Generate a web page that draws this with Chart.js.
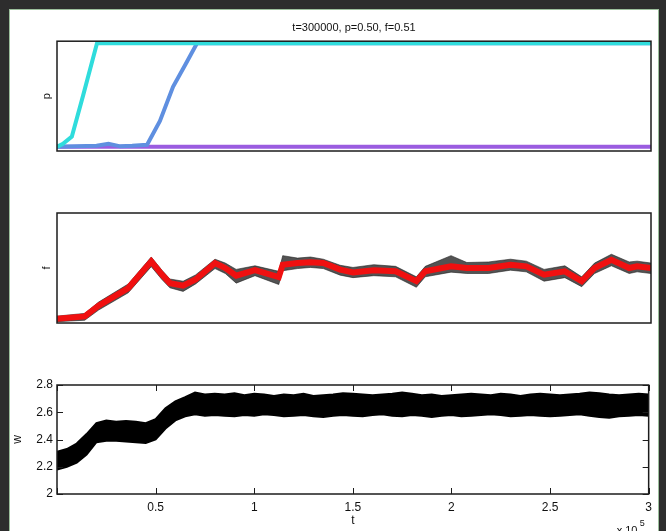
<!DOCTYPE html>
<html>
<head>
<meta charset="utf-8">
<script src="https://cdn.jsdelivr.net/npm/chart.js@4.4.0/dist/chart.umd.min.js"></script>
<style>
  html, body { margin: 0; padding: 0; background: #2d2d2d; width: 666px; height: 531px; overflow: hidden; }
  #fig { position: absolute; left: 9px; top: 9px; width: 648px; height: 540px; background: #fff; border: 1px solid #9cbf9c; }
  canvas { position: absolute; left: 10px; }
</style>
</head>
<body>
<div id="fig"></div>
<canvas id="chart-p" width="648" height="150" style="top:10px"></canvas>
<canvas id="chart-f" width="648" height="135" style="top:200px"></canvas>
<canvas id="chart-w" width="648" height="161" style="top:370px"></canvas>
<script>
/**
 * t=300000 run — p, f and w against time
 */
const FONT = 'Liberation Sans, Arial, Helvetica, sans-serif';
const chartTitle = 't=300000, p=0.50, f=0.51';

// p — strategy fractions
const pTimeCyan = [0, 3000, 7500, 13100, 20200, 300000];
const pCyan = [0, 0.03, 0.10, 0.49, 1, 1];
const pTimeBlue = [0, 10000, 20000, 26000, 32000, 38000, 45500, 52000, 58600, 65000, 70700, 300000];
const pBlue = [0, 0.005, 0.01, 0.03, 0.005, 0.01, 0.02, 0.25, 0.58, 0.80, 1, 1];
const pTimePurple = [0, 300000];
const pPurple = [0, 0];

// f — smoothed (red) and spread of the raw samples (black)
const fTime = [0, 14000, 21000, 36000, 47600, 53000, 57000, 63700, 70000, 79800, 85000, 90500, 100000,
    112000, 114000, 121500, 128000, 134500, 143000, 149500, 160000, 171000, 181500, 186000, 199000,
    207000, 218000, 229000, 237000, 246000, 256500, 265000, 271500, 280000, 289000, 293000, 300000];
const fRed = [0.315, 0.324, 0.363, 0.427, 0.524, 0.476, 0.445, 0.436, 0.458, 0.518, 0.500, 0.472, 0.492,
    0.467, 0.512, 0.518, 0.521, 0.518, 0.494, 0.484, 0.492, 0.488, 0.452, 0.488, 0.506,
    0.500, 0.500, 0.512, 0.506, 0.476, 0.488, 0.452, 0.500, 0.530, 0.500, 0.506, 0.500];
const fUpper = [0.325, 0.335, 0.376, 0.442, 0.540, 0.492, 0.460, 0.452, 0.475, 0.532, 0.518, 0.495, 0.508,
    0.488, 0.545, 0.536, 0.540, 0.532, 0.510, 0.502, 0.512, 0.506, 0.468, 0.506, 0.545,
    0.520, 0.522, 0.532, 0.525, 0.495, 0.508, 0.468, 0.518, 0.550, 0.522, 0.525, 0.518];
const fLower = [0.305, 0.310, 0.347, 0.410, 0.505, 0.458, 0.428, 0.415, 0.442, 0.498, 0.480, 0.445, 0.472,
    0.440, 0.490, 0.498, 0.502, 0.498, 0.474, 0.465, 0.472, 0.468, 0.430, 0.468, 0.485,
    0.480, 0.480, 0.492, 0.486, 0.452, 0.465, 0.432, 0.480, 0.508, 0.480, 0.486, 0.480];

// w — band of the noisy trace (upper / lower edge)
const wTime = [0, 5000, 10000, 15000, 20000, 25000, 30000, 35000, 40000, 45000, 50000, 55000, 60000, 65000, 70000,
    75000, 80000, 85000, 90000, 95000, 100000, 105000, 110000, 115000, 120000, 125000, 130000, 135000, 140000,
    145000, 150000, 155000, 160000, 165000, 170000, 175000, 180000, 185000, 190000, 195000, 200000, 205000,
    210000, 215000, 220000, 225000, 230000, 235000, 240000, 245000, 250000, 255000, 260000, 265000, 270000,
    275000, 280000, 285000, 290000, 295000, 300000];
const wUpper = [2.31, 2.33, 2.37, 2.44, 2.52, 2.54, 2.53, 2.535, 2.53, 2.52, 2.55, 2.63, 2.68, 2.71, 2.745,
    2.73, 2.735, 2.73, 2.74, 2.725, 2.735, 2.73, 2.72, 2.73, 2.725, 2.735, 2.72, 2.725, 2.73,
    2.74, 2.735, 2.73, 2.725, 2.73, 2.735, 2.745, 2.735, 2.725, 2.73, 2.72, 2.725, 2.73,
    2.735, 2.73, 2.725, 2.735, 2.73, 2.72, 2.73, 2.735, 2.73, 2.725, 2.73, 2.735, 2.745,
    2.74, 2.73, 2.725, 2.73, 2.735, 2.73];
const wLower = [2.18, 2.20, 2.23, 2.29, 2.38, 2.39, 2.39, 2.385, 2.38, 2.375, 2.40, 2.48, 2.54, 2.57, 2.585,
    2.575, 2.58, 2.575, 2.57, 2.58, 2.575, 2.585, 2.58, 2.57, 2.575, 2.58, 2.57, 2.565, 2.575,
    2.58, 2.575, 2.57, 2.58, 2.585, 2.575, 2.57, 2.58, 2.575, 2.565, 2.575, 2.58, 2.57,
    2.575, 2.58, 2.585, 2.58, 2.57, 2.575, 2.58, 2.575, 2.57, 2.575, 2.58, 2.585, 2.575,
    2.565, 2.56, 2.57, 2.575, 2.58, 2.575];

// x axis
const tMax = 300000;
const tStep = 50000;
const tScale = 1e5;
const wTicks = { min: 2, max: 2.8, step: 0.2 };

const pts = (xs, ys) => xs.map((x, i) => ({ x, y: ys[i] }));

// box round the plot area, with inward ticks where asked
const framePlugin = {
    id: 'frame',
    afterDatasetsDraw(chart, args, opts) {
        const { ctx, chartArea: a } = chart;
        ctx.save();
        ctx.strokeStyle = '#1c1c1c';
        ctx.lineWidth = 1.5;
        ctx.strokeRect(a.left, a.top, a.right - a.left, a.bottom - a.top);
        if (opts.ticks) {
            const xs = chart.scales.x, ys = chart.scales.y;
            ctx.lineWidth = 1;
            ctx.beginPath();
            xs.ticks.forEach(t => {
                const px = Math.round(xs.getPixelForValue(t.value)) + 0.5;
                ctx.moveTo(px, a.bottom); ctx.lineTo(px, a.bottom - 6);
                ctx.moveTo(px, a.top); ctx.lineTo(px, a.top + 6);
            });
            ys.ticks.forEach(t => {
                const py = Math.round(ys.getPixelForValue(t.value)) + 0.5;
                ctx.moveTo(a.left, py); ctx.lineTo(a.left + 6, py);
                ctx.moveTo(a.right, py); ctx.lineTo(a.right - 6, py);
            });
            ctx.stroke();
        }
        if (opts.exponent) {
            ctx.fillStyle = '#111';
            ctx.font = '11px ' + FONT;
            ctx.textBaseline = 'alphabetic';
            ctx.fillText('x 10', a.right - 32, chart.height + 3);
            ctx.font = '9px ' + FONT;
            ctx.fillText('5', a.right - 9, chart.height - 5);
        }
        ctx.restore();
    }
};

function baseOptions(yMin, yMax, yTitle, padding) {
    return {
        responsive: false, animation: false, devicePixelRatio: 1, events: [],
        layout: { padding },
        elements: { point: { radius: 0 }, line: { tension: 0 } },
        plugins: { legend: { display: false }, tooltip: { enabled: false }, frame: {} },
        scales: {
            x: { type: 'linear', min: 0, max: tMax, display: false },
            y: {
                min: yMin, max: yMax,
                afterFit: s => { s.width = 47; },
                grid: { display: false, drawTicks: false }, border: { display: false },
                ticks: { display: false },
                title: { display: true, text: yTitle, color: '#111', font: { family: FONT, size: 11 }, padding: { top: 30, bottom: 0 } }
            }
        }
    };
}

// p
const optP = baseOptions(-0.04, 1.02, 'p', { top: 10, right: 7, bottom: 9, left: 0 });
optP.plugins.title = {
    display: true, text: chartTitle, fullSize: false, color: '#111',
    font: { family: FONT, size: 11, weight: 'normal' }, padding: { top: 1, bottom: 7 }
};
new Chart(document.getElementById('chart-p'), {
    type: 'line',
    data: {
        datasets: [
            { data: pts(pTimeCyan, pCyan), borderColor: '#2fdcdc', borderWidth: 4, clip: 0 },
            { data: pts(pTimeBlue, pBlue), borderColor: '#5f8fe0', borderWidth: 4, clip: 0 },
            { data: pts(pTimePurple, pPurple), borderColor: '#9a5ce0', borderWidth: 4, clip: 0 }
        ]
    },
    options: optP,
    plugins: [framePlugin]
});

// f
new Chart(document.getElementById('chart-f'), {
    type: 'line',
    data: {
        datasets: [
            { data: pts(fTime, fRed), borderColor: '#f01010', borderWidth: 6, clip: 0 },
            { data: pts(fTime, fUpper), borderColor: 'rgba(20,20,20,0.55)', borderWidth: 1, fill: '+1', backgroundColor: 'rgba(25,25,25,0.75)', clip: 0 },
            { data: pts(fTime, fLower), borderColor: 'rgba(20,20,20,0.55)', borderWidth: 1, fill: false, clip: 0 }
        ]
    },
    options: baseOptions(0.3, 0.7, 'f', { top: 13, right: 7, bottom: 12, left: 0 }),
    plugins: [framePlugin]
});

// w
const optW = baseOptions(wTicks.min, wTicks.max, 'w', { top: 15, right: 7, bottom: 0, left: 0 });
optW.plugins.frame = { ticks: true, exponent: true };
optW.scales.x = {
    type: 'linear', min: 0, max: tMax,
    afterFit: s => { s.height = 37; },
    grid: { display: false, drawTicks: false }, border: { display: false },
    ticks: {
        stepSize: tStep, padding: 6, color: '#111', maxRotation: 0, autoSkip: false,
        font: { family: FONT, size: 12 },
        callback: v => v === 0 ? '' : String(v / tScale)
    },
    title: { display: true, text: 't', color: '#111', font: { family: FONT, size: 12 }, padding: { top: 0, bottom: 3 } }
};
optW.scales.y.ticks = {
    display: true, stepSize: wTicks.step, padding: 4, color: '#111',
    font: { family: FONT, size: 12 },
    callback: v => String(Math.round(v * 10) / 10)
};
optW.scales.y.title.padding = { top: 0, bottom: 0 };
optW.scales.y.title.font = { family: FONT, size: 12 };
new Chart(document.getElementById('chart-w'), {
    type: 'line',
    data: {
        datasets: [
            { data: pts(wTime, wUpper), borderColor: '#000', borderWidth: 2, fill: '+1', backgroundColor: '#000', clip: 0 },
            { data: pts(wTime, wLower), borderColor: '#000', borderWidth: 2, fill: false, clip: 0 }
        ]
    },
    options: optW,
    plugins: [framePlugin]
});
</script>
</body>
</html>
